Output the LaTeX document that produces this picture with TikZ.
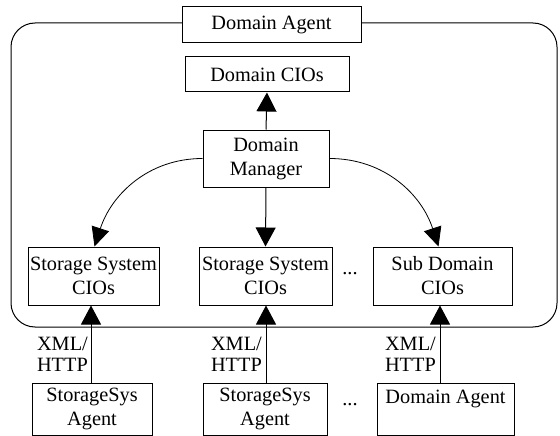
\documentclass[tikz,border=0pt]{standalone}
\usepackage{fontspec}
\setmainfont{Liberation Serif}
\usetikzlibrary{arrows.meta}
\begin{document}
\begin{tikzpicture}[x=1pt,y=-1pt,
  box/.style={draw,line width=1pt,fill=white,inner sep=0pt,align=center,
    font=\fontsize{20.3}{24}\selectfont},
  lbl/.style={inner sep=0pt,align=left,font=\fontsize{20.3}{21}\selectfont},
  arr/.style={line width=1pt,-{Triangle[length=19pt,width=20pt]}},
  link/.style={line width=0.8pt,-{Triangle[length=19pt,width=18pt]}}]
\useasboundingbox (0,0) rectangle (560,436);
% enclosing domain agent frame
\draw[line width=1pt,rounded corners=24pt] (11,23) rectangle (557,327);
\node[box,minimum width=179pt,minimum height=36pt] (da) at (271.5,25) {Domain Agent};
\node[box,minimum width=164pt,minimum height=35pt] (dc) at (267,74.5) {Domain CIOs};
\node[box,minimum width=126pt,minimum height=57pt] (dm) at (266,158.5) {Domain\\Manager};
\node[box,minimum width=131pt,minimum height=58pt] (s1) at (93.5,276) {Storage System\\CIOs};
\node[box,minimum width=133pt,minimum height=58pt] (s2) at (265.5,276) {Storage System\\CIOs};
\node[box,minimum width=139pt,minimum height=58pt] (s3) at (442.5,276) {Sub Domain\\CIOs};
\node[box,minimum width=120pt,minimum height=52pt] (a1) at (92,409) {StorageSys\\Agent};
\node[box,minimum width=124pt,minimum height=52pt] (a2) at (265,409) {StorageSys\\Agent};
\node[box,minimum width=137pt,minimum height=52pt] (a3) at (445.5,409) {Domain Agent\\\mbox{}};
\node[lbl] (d1) at (350,274) {...};
\node[lbl] (d2) at (350,405) {...};
% manager links
\draw[arr] (dm.north) -- (dc.south);
\draw[arr] (dm.south) -- (s2.north);
\draw[link] (dm.west) to[out=180,in=72] ([xshift=1pt]s1.north);
\draw[link] (dm.east) to[out=0,in=108] ([xshift=-4pt]s3.north);
% agent links
\draw[arr] ([xshift=-1pt]a1.north) -- ([xshift=-1pt]a1.north |- s1.south);
\draw[arr] ([xshift=1pt]a2.north) -- ([xshift=1pt]a2.north |- s2.south);
\coordinate (a3t) at ([xshift=-5.5pt]a3.north);
\draw[arr] (a3t) -- (a3t |- s3.south);
\node[lbl,anchor=east] (x1) at (88,354) {XML/\\HTTP};
\node[lbl,anchor=east] (x2) at (262,354) {XML/\\HTTP};
\node[lbl,anchor=east] (x3) at (436,354) {XML/\\HTTP};
\end{tikzpicture}
\end{document}
